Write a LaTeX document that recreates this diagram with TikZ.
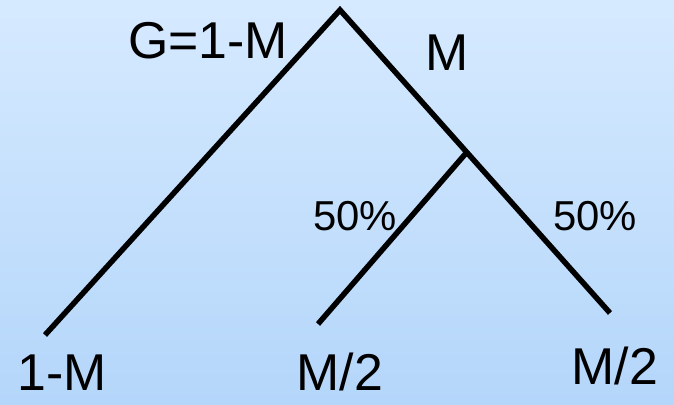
\documentclass[tikz,border=0pt]{standalone}
\usepackage{fontspec}
\setmainfont{Liberation Sans}
\begin{document}
\begin{tikzpicture}[
  x=1bp, y=-1bp,
  branch/.style={line width=5.5bp, line cap=butt},
  biglabel/.style={anchor=base, inner sep=0pt, font=\fontsize{52}{52}\selectfont},
  pctlabel/.style={anchor=base, inner sep=0pt, font=\fontsize{42}{42}\selectfont}
]
\shade[top color={rgb,255:red,214;green,234;blue,255}, bottom color={rgb,255:red,180;green,214;blue,250}]
  (0,0) rectangle (674,404);
\useasboundingbox (0,0) rectangle (674,404);
% tree points
\coordinate (root) at (340,10);
\coordinate (split) at (467,152);
\coordinate (leftleaf) at (45,335);
\coordinate (midleaf) at (318,324);
\coordinate (rightleaf) at (610,313);
\draw[branch, line join=miter] (leftleaf) -- (root) -- (rightleaf);
\draw[branch] (split) -- (midleaf);
% labels
\node[biglabel] (gain) at (208,58) {G=1-M};
\node[biglabel] (loss) at (447,70) {M};
\node[pctlabel] (pctleft) at (355,230) {50\%};
\node[pctlabel] (pctright) at (595,230) {50\%};
\node[biglabel] (outleft) at (62,390) {1-M};
\node[biglabel] (outmid) at (340,390) {M/2};
\node[biglabel] (outright) at (615,384) {M/2};
\end{tikzpicture}
\end{document}
